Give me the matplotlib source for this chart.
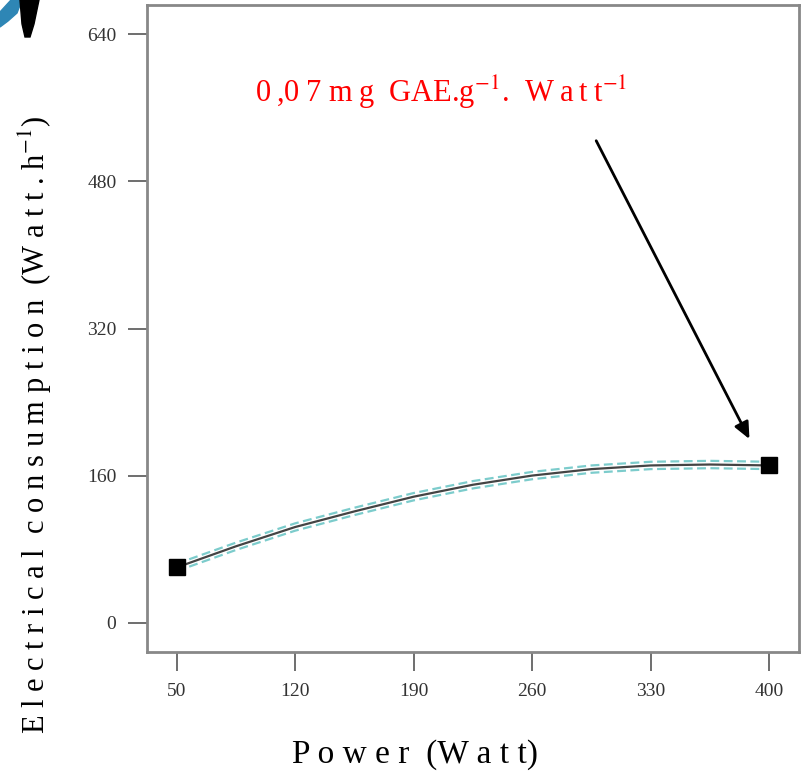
import matplotlib
matplotlib.use("Agg")
import matplotlib.pyplot as plt
from matplotlib.patches import Polygon
import numpy as np

# Data
power = [50, 85, 120, 155, 190, 225, 260, 295, 330, 365, 400]
consumption = [60, 83, 104, 121, 137, 150, 160, 167, 171, 172, 171]
ci_half = [4, 4, 4, 4, 4, 4, 4, 4, 4, 4, 4]
design_x = [50, 400]
design_y = [60, 171]
xticks = [50, 120, 190, 260, 330, 400]
yticks = [0, 160, 320, 480, 640]
annotation = "0\u2009,0\u20097 m\u2009g  GAE.g$^{-1}$.  W\u2009a\u2009t\u2009t$^{-1}$"

plt.rcParams['font.family'] = ['Liberation Serif', 'DejaVu Serif']
plt.rcParams['mathtext.fontset'] = 'stix'

W, H = 803, 777
fig = plt.figure(figsize=(W / 100, H / 100), dpi=100)
ax = fig.add_axes([147/W, 1-652/H, (799-147)/W, (652-5)/H])

p = np.array(power)
c = np.array(consumption)
h = np.array(ci_half)
ax.plot(p, c, color='#444444', lw=1.6, zorder=3)
ax.plot(p, c + h, color='#7ccccc', lw=1.6, ls=(0, (4, 2)), zorder=2)
ax.plot(p, c - h, color='#7ccccc', lw=1.6, ls=(0, (4, 2)), zorder=2)
ax.plot(design_x, design_y, ls='none', marker='s', ms=12, color='black', zorder=4)

ax.set_xlim(32.5, 417.5)
ax.set_ylim(-32, 672)
ax.set_xticks(xticks)
ax.set_yticks(yticks)
ax.tick_params(direction='out', length=14, width=1.2, color='#555555',
               labelsize=14, labelcolor='#333333', pad=8)
for s in ax.spines.values():
    s.set_color('#888888')
    s.set_linewidth(2)

ax.annotate('', xy=(389, 197), xytext=(297, 527),
            arrowprops=dict(arrowstyle='-|>,head_length=1.0,head_width=0.45',
                            color='black', lw=2))
ax.text(206, 577, annotation, color='red', fontsize=22, ha='center', va='center')

fig.text(35/W, 1-425/H, "E l e c t r i c a l  c o n s u m p t i o n  (W a t t . h$^{-1}$)",
         rotation=90, ha='center', va='center', fontsize=22)
fig.text(415/W, 1-755/H, "P o w e r  (W a t t)", ha='center', va='center', fontsize=24)

# corner logo fragment
def px(pts):
    return [(x / W, 1 - y / H) for x, y in pts]
fig.patches.append(Polygon(px([(0, 12), (0, 27), (8, 21), (17, 13), (22, 0), (11, 0)]),
                           closed=True, color='#2e86b5', transform=fig.transFigure))
fig.patches.append(Polygon(px([(20, 0), (39, 0), (34, 24), (30, 37), (25, 37), (22, 24)]),
                           closed=True, color='black', transform=fig.transFigure))

fig.savefig('out.png', dpi=100)
